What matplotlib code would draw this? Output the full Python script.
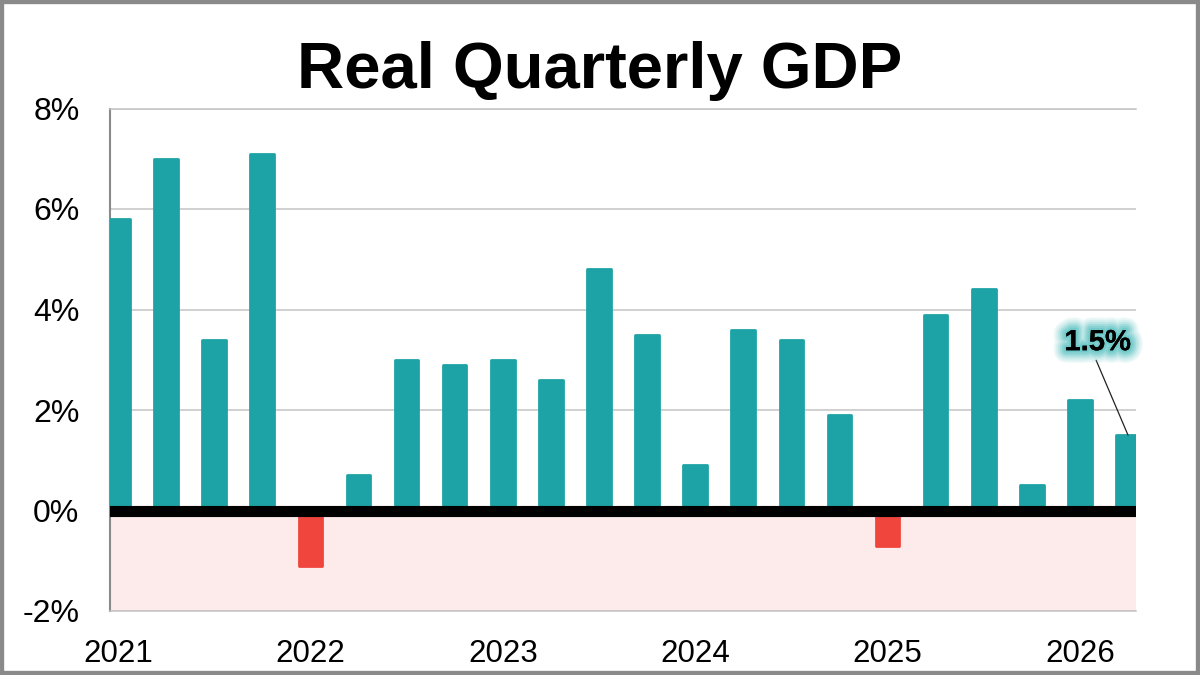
import matplotlib
matplotlib.use("Agg")
import matplotlib.pyplot as plt
import matplotlib.patheffects as pe
from matplotlib.patches import Rectangle
import numpy as np

# ---- data ----
quarters = ["2021Q1", "2021Q2", "2021Q3", "2021Q4",
            "2022Q1", "2022Q2", "2022Q3", "2022Q4",
            "2023Q1", "2023Q2", "2023Q3", "2023Q4",
            "2024Q1", "2024Q2", "2024Q3", "2024Q4",
            "2025Q1", "2025Q2", "2025Q3", "2025Q4",
            "2026Q1", "2026Q2"]
gdp_growth = [5.8, 7.0, 3.4, 7.1,
              -1.1, 0.7, 3.0, 2.9,
              3.0, 2.6, 4.8, 3.5,
              0.9, 3.6, 3.4, 1.9,
              -0.7, 3.9, 4.4, 0.5,
              2.2, 1.5]
year_labels = ["2021", "2022", "2023", "2024", "2025", "2026"]
year_label_quarter = ["2021Q1", "2022Q1", "2023Q1", "2024Q1", "2025Q1", "2026Q1"]
y_ticks = [-2, 0, 2, 4, 6, 8]
last_label = "1.5%"

plt.rcParams['font.family'] = ['Liberation Sans', 'DejaVu Sans']

TEAL = "#1da3a6"
RED = "#f0453d"
PINK = "#fdeaea"

fig = plt.figure(figsize=(12, 6.75), dpi=100)
ax = fig.add_axes([110/1200, 1 - 611/675, (1136-110)/1200, (611-108.5)/675])

x = np.arange(len(quarters))
colors = [TEAL if v >= 0 else RED for v in gdp_growth]
ax.bar(x, gdp_growth, width=0.49, color=colors, edgecolor=colors,
       linewidth=2.0, joinstyle='round', zorder=3)

ax.axhspan(-2, 0, color=PINK, zorder=0, lw=0)
ax.axhline(0, color="black", lw=8, zorder=4)

ax.set_xlim(-0.166, len(quarters) - 1 + 0.166)
ax.set_ylim(-2, 8)
ax.set_yticks(y_ticks)
ax.set_yticklabels([f"{t}%" for t in y_ticks])
ax.set_xticks([quarters.index(q) for q in year_label_quarter])
ax.set_xticklabels(year_labels)
ax.tick_params(axis='y', length=0, pad=22, labelsize=23)
ax.tick_params(axis='x', length=0, pad=20.5, labelsize=22.5)

ax.yaxis.grid(True, color="#c4c4c4", lw=1.1, zorder=1)
ax.set_axisbelow(True)
ax.spines["right"].set_visible(False)
ax.spines["top"].set_color("#c4c4c4")
ax.spines["top"].set_linewidth(1.1)
ax.spines["bottom"].set_color("#c4c4c4")
ax.spines["bottom"].set_linewidth(1.1)
ax.spines["left"].set_color("#8a8a8a")
ax.spines["left"].set_linewidth(1.5)

# annotation for last quarter
last_i = len(gdp_growth) - 1
glow = [pe.withStroke(linewidth=w, foreground="#5fc2c2", alpha=a)
        for w, a in [(18, 0.12), (15, 0.15), (12, 0.2), (9, 0.3), (6, 0.4), (3, 0.5)]]
ax.annotate(last_label, xy=(last_i, gdp_growth[-1]), xytext=(20.37, 3.35),
            textcoords='data', ha='center', va='center',
            fontsize=21, fontweight='bold', color='black', zorder=6,
            path_effects=glow + [pe.Normal()],
            arrowprops=dict(arrowstyle='-', color='#222222', lw=0.9,
                            relpos=(0.45, 0.0), shrinkA=1, shrinkB=0))

fig.text(0.5, 1 - 88/675, "Real Quarterly GDP", ha='center', va='baseline',
         fontsize=47, fontweight='bold', color='black')

fig.patches.append(Rectangle((0, 0), 1, 1, transform=fig.transFigure,
                             fill=False, edgecolor="#8a8a8a", lw=6, zorder=10))

fig.savefig("out.png", dpi=100)
